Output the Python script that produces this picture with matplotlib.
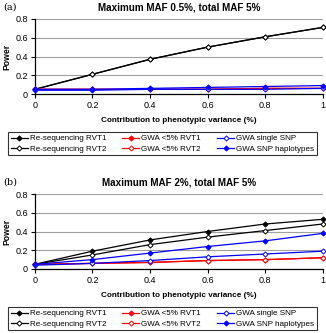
import matplotlib
matplotlib.use("Agg")
import matplotlib.pyplot as plt

plt.rcParams['font.family'] = ['Liberation Sans', 'DejaVu Sans']

# x values: contribution to phenotypic variance (%)
contrib = [0, 0.2, 0.4, 0.6, 0.8, 1.0]

series_names = ["Re-sequencing RVT1", "Re-sequencing RVT2", "GWA <5% RVT1",
                "GWA <5% RVT2", "GWA single SNP", "GWA SNP haplotypes"]

# panel (a): maximum MAF 0.5%, total MAF 5%
a_rvt1 = [0.05, 0.21, 0.37, 0.50, 0.61, 0.71]
a_rvt2 = [0.05, 0.21, 0.37, 0.50, 0.61, 0.71]
a_gwa_rvt1 = [0.05, 0.05, 0.05, 0.05, 0.06, 0.06]
a_gwa_rvt2 = [0.05, 0.05, 0.05, 0.05, 0.06, 0.06]
a_single = [0.04, 0.04, 0.05, 0.05, 0.05, 0.06]
a_haplo = [0.05, 0.05, 0.06, 0.07, 0.08, 0.09]

# panel (b): maximum MAF 2%, total MAF 5%
b_rvt1 = [0.05, 0.19, 0.31, 0.40, 0.48, 0.53]
b_rvt2 = [0.05, 0.15, 0.26, 0.34, 0.41, 0.48]
b_gwa_rvt1 = [0.05, 0.06, 0.07, 0.09, 0.10, 0.12]
b_gwa_rvt2 = [0.05, 0.06, 0.07, 0.09, 0.10, 0.12]
b_single = [0.04, 0.06, 0.09, 0.13, 0.16, 0.19]
b_haplo = [0.05, 0.10, 0.17, 0.24, 0.30, 0.38]

styles = [("black", "black"), ("black", "white"), ("red", "red"),
          ("red", "white"), ("blue", "white"), ("blue", "blue")]

yticks = [0, 0.2, 0.4, 0.6, 0.8]
xticks = [0, 0.2, 0.4, 0.6, 0.8, 1]
xtick_labels = ["0", "0.2", "0.4", "0.6", "0.8", "1"]


def draw_panel(fig, rect, title, tag, data, legend_top):
    ax = fig.add_axes(rect)
    for vals, name, (col, face) in zip(data, series_names, styles):
        ax.plot(contrib, vals, color=col, lw=0.9, marker="D", ms=2.6,
                mfc=face, mec=col, mew=0.7, label=name, clip_on=False, zorder=3)
    ax.set_xlim(0, 1)
    ax.set_ylim(0, 0.8)
    ax.set_yticks(yticks)
    ax.set_yticklabels(["0", "0.2", "0.4", "0.6", "0.8"], fontsize=6.5)
    ax.set_xticks(xticks)
    ax.set_xticklabels(xtick_labels, fontsize=6.5)
    ax.grid(axis="y", color="#a0a0a0", lw=0.8)
    ax.set_axisbelow(True)
    for s in ["top", "right"]:
        ax.spines[s].set_visible(False)
    ax.spines["left"].set_linewidth(0.9)
    ax.spines["bottom"].set_linewidth(0.9)
    ax.tick_params(length=3, width=0.8, pad=2)
    ax.set_ylabel("Power", fontsize=6.2, fontweight="bold", labelpad=3)
    ax.set_xlabel("Contribution to phenotypic variance (%)", fontsize=5.9,
                  fontweight="bold", labelpad=5)
    ax.set_title(title, fontsize=7.1, fontweight="bold", pad=6)
    fig.text(0.01, rect[1] + rect[3] + 0.035, tag, fontsize=7, va="center",
             family=["DejaVu Serif"])
    leg = fig.legend(*ax.get_legend_handles_labels(), loc="upper left",
                     bbox_to_anchor=(8 / 326, legend_top - 0.1, 309 / 326, 0.1),
                     mode="expand", ncol=3, fontsize=5.8,
                     frameon=True, fancybox=False, edgecolor="black",
                     borderpad=0.35, handlelength=2.1, handletextpad=0.25,
                     columnspacing=0.3, labelspacing=0.3, borderaxespad=0)
    leg.get_frame().set_linewidth(0.8)
    return ax


fig = plt.figure(figsize=(3.26, 3.33), dpi=100)
draw_panel(fig, [0.107, 1 - 94 / 333, 0.883, 75 / 333], "Maximum MAF 0.5%, total MAF 5%", "(a)",
           [a_rvt1, a_rvt2, a_gwa_rvt1, a_gwa_rvt2, a_single, a_haplo], 1 - 132 / 333)
draw_panel(fig, [0.107, 1 - 269 / 333, 0.883, 75 / 333], "Maximum MAF 2%, total MAF 5%", "(b)",
           [b_rvt1, b_rvt2, b_gwa_rvt1, b_gwa_rvt2, b_single, b_haplo], 1 - 307 / 333)
fig.savefig("out.png", dpi=100)
